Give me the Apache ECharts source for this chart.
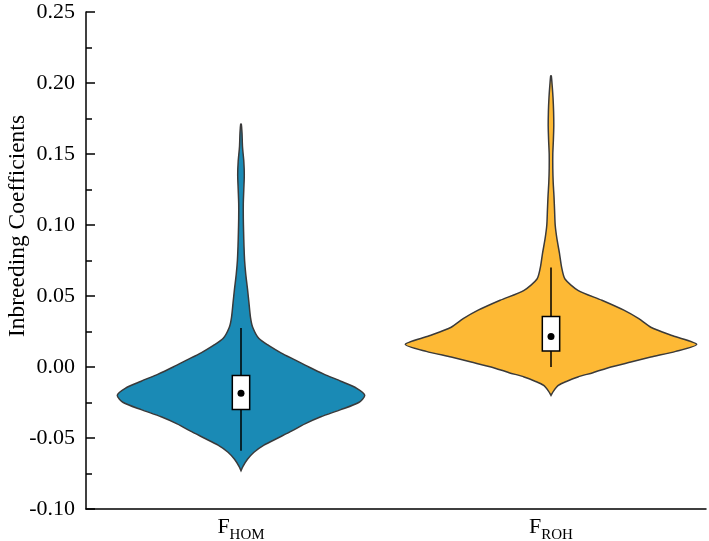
<!DOCTYPE html>
<html>
<head>
<meta charset="utf-8">
<script src="https://cdn.jsdelivr.net/npm/echarts@6/dist/echarts.min.js"></script>
<style>
  html, body { margin: 0; padding: 0; background: #fff; }
  #chart { width: 709px; height: 541px; }
</style>
</head>
<body>
<div id="chart"></div>
<script>
  // categories (subscripts of F)
  var categories = ['HOM', 'ROH'];

  // violin profiles: value levels + estimated kernel density at each level
  var homLevels = [0.171, 0.165, 0.155, 0.145, 0.135, 0.125, 0.115, 0.105, 0.095, 0.085, 0.075, 0.065, 0.055, 0.045, 0.035, 0.028,
    0.020, 0.015, 0.010, 0.005, 0.0, -0.005, -0.010, -0.015, -0.020, -0.025, -0.030, -0.035, -0.040, -0.045, -0.050, -0.055,
    -0.060, -0.065, -0.070, -0.073];
  var homDensity = [0.03, 0.10, 0.15, 0.28, 0.33, 0.28, 0.23, 0.23, 0.26, 0.30, 0.36, 0.48, 0.65, 0.80, 0.95, 1.17,
    1.8, 2.8, 4.0, 5.4, 6.8, 8.3, 10.0, 11.6, 12.4, 11.8, 10.0, 8.0, 6.4, 5.1, 3.7, 2.3,
    1.3, 0.65, 0.2, 0];

  var rohLevels = [0.205, 0.198, 0.19, 0.18, 0.17, 0.16, 0.15, 0.14, 0.13, 0.12, 0.11, 0.10, 0.09, 0.08, 0.07, 0.062,
    0.054, 0.047, 0.040, 0.034, 0.028, 0.022, 0.016, 0.011, 0.007, 0.0035, 0.0, -0.004, -0.007, -0.010, -0.013, -0.017, -0.020];
  var rohDensity = [0.03, 0.12, 0.20, 0.26, 0.28, 0.24, 0.18, 0.18, 0.22, 0.30, 0.36, 0.42, 0.60, 0.85, 1.07, 1.4,
    2.7, 5.1, 7.3, 8.8, 10.0, 12.2, 14.6, 12.5, 10.0, 8.0, 6.0, 4.2, 2.7, 1.6, 0.73, 0.25, 0];

  // box plot stats per category
  var whiskerLow = [-0.059, 0.0];
  var q1 = [-0.030, 0.0112];
  var median = [-0.0185, 0.0215];
  var q3 = [-0.006, 0.0356];
  var whiskerHigh = [0.0274, 0.070];

  var yTitle = 'Inbreeding Coefficients';

  var violinColors = ['#1a8ab5', '#fdb935'];
  var levelsAll = [homLevels, rohLevels];
  var densityAll = [homDensity, rohDensity];
  var maxDensity = Math.max.apply(null, homDensity.concat(rohDensity));

  var serif = '"Liberation Serif", "Times New Roman", serif';

  function renderViolin(params, api) {
    var i = api.value(0);
    var cx = api.coord([i, 0])[0];
    var band = api.size([1, 0])[0];
    var k = band * 0.47 / maxDensity;
    var lv = levelsAll[i], dn = densityAll[i];
    var right = [], left = [];
    for (var j = 0; j < lv.length; j++) {
      var y = api.coord([i, lv[j]])[1];
      right.push([cx + dn[j] * k, y]);
      left.unshift([cx - dn[j] * k, y]);
    }
    var yQ1 = api.coord([i, q1[i]])[1];
    var yQ3 = api.coord([i, q3[i]])[1];
    var yMed = api.coord([i, median[i]])[1];
    var yLo = api.coord([i, whiskerLow[i]])[1];
    var yHi = api.coord([i, whiskerHigh[i]])[1];
    var bw = band * 0.028;
    return {
      type: 'group',
      children: [
        {
          type: 'polygon',
          shape: { points: right.concat(left), smooth: 0.25 },
          style: { fill: violinColors[i], stroke: '#3a3a3a', lineWidth: 1.5 }
        },
        {
          type: 'line',
          shape: { x1: cx, y1: yHi, x2: cx, y2: yLo },
          style: { stroke: '#000', lineWidth: 1.5 }
        },
        {
          type: 'rect',
          shape: { x: cx - bw, y: yQ3, width: bw * 2, height: yQ1 - yQ3 },
          style: { fill: '#fff', stroke: '#000', lineWidth: 1.5 }
        },
        {
          type: 'circle',
          shape: { cx: cx, cy: yMed, r: 3.5 },
          style: { fill: '#000' }
        }
      ]
    };
  }

  var chart = echarts.init(document.getElementById('chart'));
  chart.setOption({
    animation: false,
    grid: { left: 86, right: 3, top: 12, bottom: 32, outerBoundsMode: 'none' },
    graphic: [{
      type: 'text',
      x: 18,
      y: 226,
      rotation: Math.PI / 2,
      style: {
        text: yTitle,
        fontFamily: serif,
        fontSize: 23.5,
        fill: '#000',
        align: 'center',
        verticalAlign: 'middle'
      }
    }],
    xAxis: {
      type: 'category',
      data: categories,
      axisLine: { onZero: false, lineStyle: { color: '#000', width: 1.5 } },
      axisTick: { inside: true, length: 6, alignWithLabel: true, lineStyle: { color: '#000', width: 1.5 } },
      axisLabel: {
        margin: 7,
        formatter: function (v) { return '{f|F}{s|' + v + '}'; },
        rich: {
          f: { fontFamily: serif, fontSize: 22, color: '#000', verticalAlign: 'bottom', padding: [0, 0, 5, 0] },
          s: { fontFamily: serif, fontSize: 15, color: '#000', verticalAlign: 'bottom' }
        }
      },
      splitLine: { show: false }
    },
    yAxis: {
      type: 'value',
      min: -0.1,
      max: 0.25,
      interval: 0.05,
      axisLine: { show: true, lineStyle: { color: '#000', width: 1.5 } },
      axisTick: { show: true, inside: true, length: 9, lineStyle: { color: '#000', width: 1.5 } },
      minorTick: { show: true, splitNumber: 2, length: 6, lineStyle: { color: '#000', width: 1.5 } },
      axisLabel: {
        margin: 11,
        fontFamily: serif,
        fontSize: 22,
        color: '#000',
        formatter: function (v) { return v.toFixed(2); }
      },
      splitLine: { show: false }
    },
    series: [{
      type: 'custom',
      renderItem: renderViolin,
      encode: { x: 0, y: 1 },
      data: [[0, median[0]], [1, median[1]]],
      clip: false
    }]
  });
</script>
</body>
</html>
